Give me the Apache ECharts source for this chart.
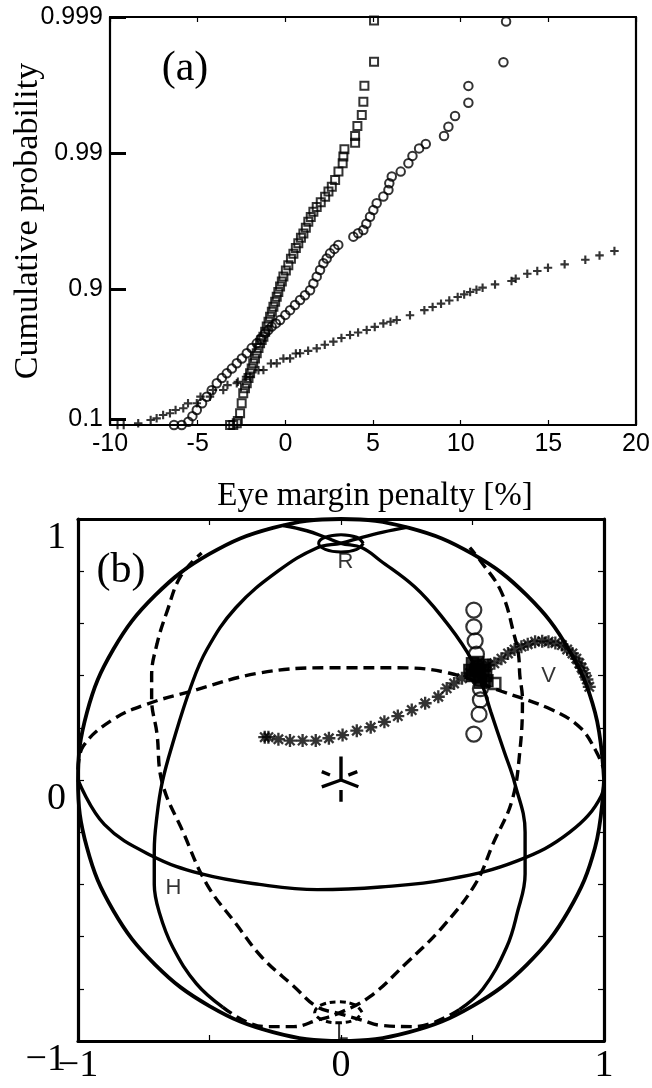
<!DOCTYPE html>
<html>
<head>
<meta charset="utf-8">
<script src="https://cdn.jsdelivr.net/npm/echarts@6/dist/echarts.min.js"></script>
<style>
html,body{margin:0;padding:0;background:#fff;}
#c{width:652px;height:1088px;}
</style>
</head>
<body>
<div id="c"></div>
<script>
// ================= Panel (a): [eye margin penalty %, cumulative probability] =================
const squaresA = [[-3.15,0],[-2.97,0],[-2.77,0.030],[-2.71,0.067],[-2.58,0.180],[-2.49,0.308],[-2.40,0.415],[-2.30,0.463],[-2.20,0.507],[-2.10,0.548],[-2.01,0.583],[-1.92,0.615],[-1.83,0.648],[-1.73,0.676],[-1.63,0.703],[-1.53,0.728],[-1.44,0.749],[-1.35,0.763],[-1.25,0.776],[-1.15,0.794],[-1.06,0.811],[-0.96,0.826],[-0.87,0.840],[-0.77,0.853],[-0.68,0.865],[-0.58,0.876],[-0.49,0.886],[-0.40,0.895],[-0.30,0.904],[-0.20,0.912],[-0.11,0.919],[0.03,0.927],[0.17,0.933],[0.32,0.940],[0.46,0.945],[0.60,0.950],[0.74,0.954],[0.89,0.958],[1.03,0.961],[1.17,0.9645],[1.31,0.968],[1.45,0.9705],[1.60,0.973],[1.79,0.975],[2.02,0.977],[2.27,0.979],[2.46,0.9808],[2.65,0.9823],[2.84,0.9842],[3.03,0.9863],[3.27,0.9881],[3.31,0.9894],[3.37,0.9906],[3.98,0.9916],[3.98,0.9925],[4.11,0.99368],[4.36,0.99474],[4.45,0.9958],[4.51,0.9968],[5.06,0.99787],[5.06,0.99894]];
const circlesA = [[-6.35,0],[-5.91,0],[-5.53,0.054],[-5.30,0.139],[-5.05,0.224],[-4.75,0.308],[-4.48,0.381],[-4.20,0.444],[-3.91,0.507],[-3.62,0.548],[-3.34,0.583],[-3.05,0.615],[-2.77,0.648],[-2.48,0.676],[-2.20,0.703],[-1.92,0.728],[-1.63,0.749],[-1.40,0.769],[-1.16,0.788],[-0.97,0.800],[-0.78,0.811],[-0.54,0.821],[-0.30,0.831],[0.00,0.845],[0.27,0.857],[0.55,0.869],[0.84,0.8795],[1.12,0.889],[1.41,0.898],[1.60,0.9088],[1.79,0.9189],[1.98,0.9276],[2.17,0.9353],[2.36,0.9404],[2.55,0.9453],[2.80,0.9493],[3.02,0.9526],[3.88,0.9588],[4.15,0.9611],[4.45,0.9632],[4.62,0.9669],[4.83,0.9706],[5.02,0.9737],[5.21,0.9766],[5.59,0.9791],[5.88,0.9813],[5.93,0.9833],[6.07,0.9851],[6.58,0.9863],[7.02,0.9881],[7.25,0.9895],[7.63,0.99075],[8.01,0.99141],[9.05,0.9925],[9.30,0.99359],[9.68,0.99465],[10.44,0.99573],[10.44,0.99679],[12.44,0.99785],[12.59,0.99892]];
const plusesA = [[-9.57,0],[-9.22,0],[-8.39,0.0272],[-7.68,0.0816],[-7.34,0.1066],[-6.97,0.155],[-6.58,0.180],[-6.26,0.224],[-5.82,0.247],[-5.55,0.307],[-5.05,0.308],[-4.84,0.381],[-4.30,0.381],[-4.13,0.447],[-3.54,0.447],[-3.30,0.491],[-2.77,0.507],[-2.71,0.519],[-2.24,0.558],[-2.01,0.558],[-1.53,0.605],[-1.25,0.606],[-0.82,0.647],[-0.49,0.648],[-0.11,0.675],[0.27,0.676],[0.60,0.702],[0.84,0.703],[1.30,0.715],[1.79,0.727],[2.25,0.743],[2.74,0.756],[3.20,0.771],[3.69,0.782],[4.15,0.791],[4.64,0.800],[5.10,0.810],[5.59,0.821],[6.00,0.826],[6.35,0.831],[7.11,0.844],[7.93,0.857],[8.40,0.8645],[8.88,0.8718],[9.35,0.8784],[9.83,0.8855],[10.20,0.8904],[10.54,0.8948],[10.90,0.8988],[11.25,0.9023],[11.96,0.9075],[12.90,0.9127],[13.14,0.9161],[13.80,0.9227],[14.37,0.9262],[14.98,0.9302],[15.93,0.9341],[17.11,0.9390],[17.92,0.9434],[18.77,0.9474]];
const probTicks = [0.1, 0.9, 0.99, 0.999];
const penaltyRange = [-10, 20];
const penaltyStep = 5;

// ================= Panel (b): Poincare sphere (projected coordinates) =================
const sphereOutline = [[1,0],[0.966,0.259],[0.866,0.5],[0.707,0.707],[0.5,0.866],[0.259,0.966],[0,1],[-0.259,0.966],[-0.5,0.866],[-0.707,0.707],[-0.866,0.5],[-0.966,0.259],[-1,0],[-0.966,-0.259],[-0.866,-0.5],[-0.707,-0.707],[-0.5,-0.866],[-0.259,-0.966],[0,-1],[0.259,-0.966],[0.5,-0.866],[0.707,-0.707],[0.866,-0.5],[0.966,-0.259],[1,0]];
const equatorFront = [[-1,0],[-0.90,-0.17],[-0.72,-0.29],[-0.53,-0.36],[-0.31,-0.40],[-0.09,-0.42],[0.15,-0.41],[0.41,-0.38],[0.67,-0.31],[0.87,-0.20],[0.99,-0.06],[1,0]];
const equatorBack = [[-1,0.04],[-0.98,0.13],[-0.87,0.23],[-0.74,0.29],[-0.57,0.34],[-0.31,0.41],[-0.05,0.43],[0.21,0.43],[0.41,0.41],[0.61,0.34],[0.80,0.27],[0.91,0.20],[0.97,0.11],[1,0.04]];
const meridianAFront = [[0.25,0.968],[0.16,0.95],[0.08,0.93],[0,0.907],[-0.09,0.89],[-0.24,0.80],[-0.40,0.66],[-0.51,0.50],[-0.57,0.36],[-0.64,0.14],[-0.68,-0.01],[-0.70,-0.14],[-0.71,-0.27],[-0.71,-0.40],[-0.69,-0.51],[-0.64,-0.64],[-0.55,-0.78],[-0.45,-0.87]];
const meridianABack = [[-0.45,-0.87],[-0.29,-0.945],[-0.18,-0.945],[-0.09,-0.92],[-0.01,-0.894],[0.11,-0.83],[0.25,-0.70],[0.38,-0.57],[0.51,-0.40],[0.58,-0.24],[0.65,-0.08],[0.68,0.11],[0.69,0.31],[0.68,0.40],[0.675,0.48],[0.66,0.55],[0.61,0.72],[0.53,0.84],[0.49,0.89]];
const meridianBFront = [[-0.22,0.975],[-0.13,0.955],[-0.06,0.93],[0,0.907],[0.08,0.89],[0.15,0.84],[0.28,0.74],[0.38,0.63],[0.48,0.49],[0.535,0.37],[0.57,0.26],[0.62,0.11],[0.66,-0.01],[0.70,-0.20],[0.70,-0.36],[0.67,-0.51],[0.63,-0.64],[0.54,-0.80],[0.45,-0.88]];
const meridianBBack = [[0.45,-0.88],[0.28,-0.945],[0.15,-0.94],[0.08,-0.92],[-0.01,-0.894],[-0.09,-0.87],[-0.18,-0.79],[-0.30,-0.68],[-0.40,-0.55],[-0.51,-0.40],[-0.60,-0.20],[-0.68,-0.01],[-0.70,0.18],[-0.72,0.31],[-0.72,0.40],[-0.70,0.52],[-0.66,0.65],[-0.61,0.78],[-0.53,0.87]];
const rMarker = [[0.085,0.907],[0.06,0.93],[0,0.94],[-0.06,0.93],[-0.085,0.907],[-0.06,0.884],[0,0.874],[0.06,0.884],[0.085,0.907]];
const lMarker = [[0.08,-0.89],[0.054,-0.862],[-0.01,-0.85],[-0.074,-0.862],[-0.1,-0.89],[-0.074,-0.918],[-0.01,-0.93],[0.054,-0.918],[0.08,-0.89]];
const originAxesSolid = [[[0,0],[0,0.09]],[[0,0],[-0.073,-0.026]],[[0,0],[0.066,-0.026]]];
const originAxesHidden = [[[0,-0.038],[0,-0.083]],[[-0.042,0.019],[-0.073,0.032]],[[0.028,0.019],[0.062,0.032]]];
const circlesB = [[0.505,0.651],[0.505,0.587],[0.51,0.533],[0.515,0.482],[0.52,0.43],[0.525,0.39],[0.53,0.35],[0.53,0.307],[0.525,0.252],[0.505,0.176]];
const clusterSquaresB = [[0.50,0.445],[0.52,0.45],[0.545,0.44],[0.49,0.42],[0.515,0.425],[0.54,0.42],[0.50,0.40],[0.525,0.395],[0.55,0.40],[0.53,0.375],[0.555,0.38]];
const openSquaresB = [[0.585,0.37]];
const asterisksB = [[-0.29,0.164],[-0.276,0.164],[-0.238,0.156],[-0.194,0.151],[-0.146,0.151],[-0.096,0.151],[-0.046,0.160],[0.006,0.172],[0.06,0.189],[0.113,0.202],[0.165,0.223],[0.216,0.245],[0.269,0.268],[0.32,0.294],[0.37,0.319],[0.402,0.351],[0.43,0.37],[0.46,0.39],[0.49,0.41],[0.56,0.44],[0.583,0.447],[0.61,0.465],[0.635,0.485],[0.66,0.50],[0.686,0.511],[0.71,0.52],[0.738,0.53],[0.765,0.532],[0.789,0.53],[0.815,0.525],[0.84,0.517],[0.86,0.50],[0.88,0.485],[0.895,0.465],[0.906,0.447],[0.915,0.43],[0.925,0.409],[0.935,0.385],[0.944,0.357]];
const sphereLabels = [[0.017,0.836,'R'],[-0.637,-0.414,'H'],[0.789,0.398,'V'],[0.005,-0.968,'L']];

// ================= build =================
const SERIF = '"Liberation Serif","Times New Roman",serif';
const SANS = '"Liberation Sans",Arial,sans-serif';
const level = p => -Math.log10(1 - p);           // probability-paper position
const toLevel = arr => arr.map(([x, p]) => [x, level(p)]);
const probLevels = probTicks.map(level);

const PLUS = 'path://M7.5,0H12.5V7.5H20V12.5H12.5V20H7.5V12.5H0V7.5H7.5Z';
const STAR = 'path://M8.2,0H11.8V20H8.2Z M0,8.2H20V11.8H0Z M1.6,4.1L4.1,1.6L18.4,15.9L15.9,18.4Z M15.9,1.6L18.4,4.1L4.1,18.4L1.6,15.9Z';

function curve(points, dashed, width) {
  return {
    type: 'line', xAxisIndex: 2, yAxisIndex: 2, data: points,
    smooth: 0.4, symbol: 'none', silent: true, clip: false, z: 2,
    lineStyle: { color: '#000', width: width || 3.4, type: dashed ? [11, 6] : 'solid', cap: 'butt' }
  };
}
const segSeries = [];
originAxesSolid.concat(originAxesHidden).forEach(seg => {
  segSeries.push({ type: 'line', xAxisIndex: 2, yAxisIndex: 2, data: seg, symbol: 'none', silent: true, z: 3,
    lineStyle: { color: '#000', width: 3.4 } });
});

const bLabel = v => {
  if (Math.abs(v) < 1e-6) return '0';
  if (Math.abs(v - 1) < 1e-6) return '1';
  if (Math.abs(v + 1) < 1e-6) return '\u22121';
  return '';
};
const line = w => ({ show: true, onZero: false, lineStyle: { color: '#000', width: w } });

const option = {
  animation: false,
  backgroundColor: '#fff',
  grid: [
    { left: 110, top: 17, width: 526, height: 408, containLabel: false, outerBoundsMode: 'none' },
    { left: 78, top: 519, width: 526, height: 522, containLabel: false, outerBoundsMode: 'none' }
  ],
  xAxis: [
    { gridIndex: 0, type: 'value', position: 'bottom', min: penaltyRange[0], max: penaltyRange[1], interval: penaltyStep,
      axisLine: line(2.2),
      axisTick: { show: true, inside: true, length: 5, lineStyle: { color: '#000', width: 1.2 } },
      axisLabel: { color: '#000', fontFamily: SANS, fontSize: 25, margin: 7 },
      splitLine: { show: false } },
    { gridIndex: 0, type: 'value', position: 'top', min: penaltyRange[0], max: penaltyRange[1], interval: penaltyStep,
      axisLine: line(2.2),
      axisTick: { show: true, inside: true, length: 5, lineStyle: { color: '#000', width: 1.2 } },
      axisLabel: { show: false }, splitLine: { show: false } },
    { gridIndex: 1, type: 'value', position: 'bottom', min: -1, max: 1, interval: 0.5,
      axisLine: line(3.2),
      axisTick: { show: true, inside: true, length: 6, lineStyle: { color: '#000', width: 1.2 } },
      axisLabel: { color: '#000', fontFamily: SERIF, fontSize: 38, margin: 6, formatter: bLabel },
      splitLine: { show: false } },
    { gridIndex: 1, type: 'value', position: 'top', min: -1, max: 1, interval: 0.5,
      axisLine: line(3.2),
      axisTick: { show: true, inside: true, length: 6, lineStyle: { color: '#000', width: 1.2 } },
      axisLabel: { show: false }, splitLine: { show: false } }
  ],
  yAxis: [
    { gridIndex: 0, type: 'value', position: 'left', min: 0, max: probLevels[probLevels.length - 1], interval: 1,
      axisLine: line(2.2),
      axisTick: { show: true, inside: true, length: 16, lineStyle: { color: '#000', width: 3 }, customValues: probLevels },
      axisLabel: { color: '#000', fontFamily: SANS, fontSize: 25, margin: 7, customValues: probLevels,
        formatter: v => { let best = -1, d = 1e9; probLevels.forEach((t, i) => { if (Math.abs(t - v) < d) { d = Math.abs(t - v); best = i; } }); return d < 0.06 ? String(probTicks[best]) : ''; } },
      splitLine: { show: false } },
    { gridIndex: 0, type: 'value', position: 'right', min: 0, max: probLevels[probLevels.length - 1],
      axisLine: line(2.2),
      axisTick: { show: false }, axisLabel: { show: false }, splitLine: { show: false } },
    { gridIndex: 1, type: 'value', position: 'left', min: -1, max: 1, interval: 0.2,
      axisLine: line(3.2),
      axisTick: { show: true, inside: true, length: 6, lineStyle: { color: '#000', width: 1.2 } },
      axisLabel: { color: '#000', fontFamily: SERIF, fontSize: 38, margin: 12, verticalAlign: 'top', formatter: bLabel },
      splitLine: { show: false } },
    { gridIndex: 1, type: 'value', position: 'right', min: -1, max: 1, interval: 0.2,
      axisLine: line(3.2),
      axisTick: { show: true, inside: true, length: 6, lineStyle: { color: '#000', width: 1.2 } },
      axisLabel: { show: false }, splitLine: { show: false } }
  ],
  graphic: [
    { type: 'text', x: 185, y: 69, style: { text: '(a)', fontFamily: SERIF, fontSize: 42, fill: '#000', align: 'center', verticalAlign: 'middle' } },
    { type: 'text', x: 121, y: 571, style: { text: '(b)', fontFamily: SERIF, fontSize: 42, fill: '#000', align: 'center', verticalAlign: 'middle' } },
    { type: 'text', x: 28, y: 221, rotation: Math.PI / 2, style: { text: 'Cumulative probability', fontFamily: SERIF, fontSize: 34, fill: '#000', align: 'center', verticalAlign: 'middle' } },
    { type: 'text', x: 375, y: 496, style: { text: 'Eye margin penalty [%]', fontFamily: SERIF, fontSize: 33, fill: '#000', align: 'center', verticalAlign: 'middle' } }
  ],
  series: [
    { type: 'scatter', xAxisIndex: 0, yAxisIndex: 0, data: toLevel(plusesA), symbol: PLUS, symbolSize: 8.5, clip: false,
      itemStyle: { color: '#000' }, silent: true },
    { type: 'scatter', xAxisIndex: 0, yAxisIndex: 0, data: toLevel(circlesA), symbol: 'circle', symbolSize: 8.5, clip: false,
      itemStyle: { color: 'rgba(0,0,0,0)', borderColor: '#000', borderWidth: 2 }, silent: true },
    { type: 'scatter', xAxisIndex: 0, yAxisIndex: 0, data: toLevel(squaresA), symbol: 'rect', symbolSize: 8, clip: false,
      itemStyle: { color: 'rgba(0,0,0,0)', borderColor: '#000', borderWidth: 2 }, silent: true },

    curve(sphereOutline, false, 3.8),
    curve(equatorFront, false),
    curve(equatorBack, true),
    curve(meridianAFront, false),
    curve(meridianABack, true),
    curve(meridianBFront, false),
    curve(meridianBBack, true),
    curve(rMarker, false, 3),
    Object.assign(curve(lMarker, true, 3), { lineStyle: { color: '#000', width: 3, type: [6, 4] } }),
    ...segSeries,

    { type: 'scatter', xAxisIndex: 2, yAxisIndex: 2, data: circlesB, symbol: 'circle', symbolSize: 15, z: 4,
      itemStyle: { color: 'rgba(0,0,0,0)', borderColor: '#000', borderWidth: 2.2 }, silent: true },
    { type: 'scatter', xAxisIndex: 2, yAxisIndex: 2, data: asterisksB, symbol: STAR, symbolSize: 13, z: 5,
      itemStyle: { color: '#000' }, silent: true },
    { type: 'scatter', xAxisIndex: 2, yAxisIndex: 2, data: clusterSquaresB, symbol: 'rect', symbolSize: 12, z: 6,
      itemStyle: { color: '#000', borderColor: '#000', borderWidth: 1.5 }, silent: true },
    { type: 'scatter', xAxisIndex: 2, yAxisIndex: 2, data: openSquaresB, symbol: 'rect', symbolSize: 11, z: 6,
      itemStyle: { color: 'rgba(0,0,0,0)', borderColor: '#000', borderWidth: 2.4 }, silent: true },
    { type: 'scatter', xAxisIndex: 2, yAxisIndex: 2, data: sphereLabels, symbolSize: 1, z: 7,
      itemStyle: { color: 'rgba(0,0,0,0)' }, silent: true,
      label: { show: true, position: 'inside', formatter: p => p.data[2], fontFamily: SANS, fontSize: 22, color: '#000' } }
  ]
};

const chart = echarts.init(document.getElementById('c'), null, { renderer: 'canvas', width: 652, height: 1088 });
chart.setOption(option);
</script>
</body>
</html>
